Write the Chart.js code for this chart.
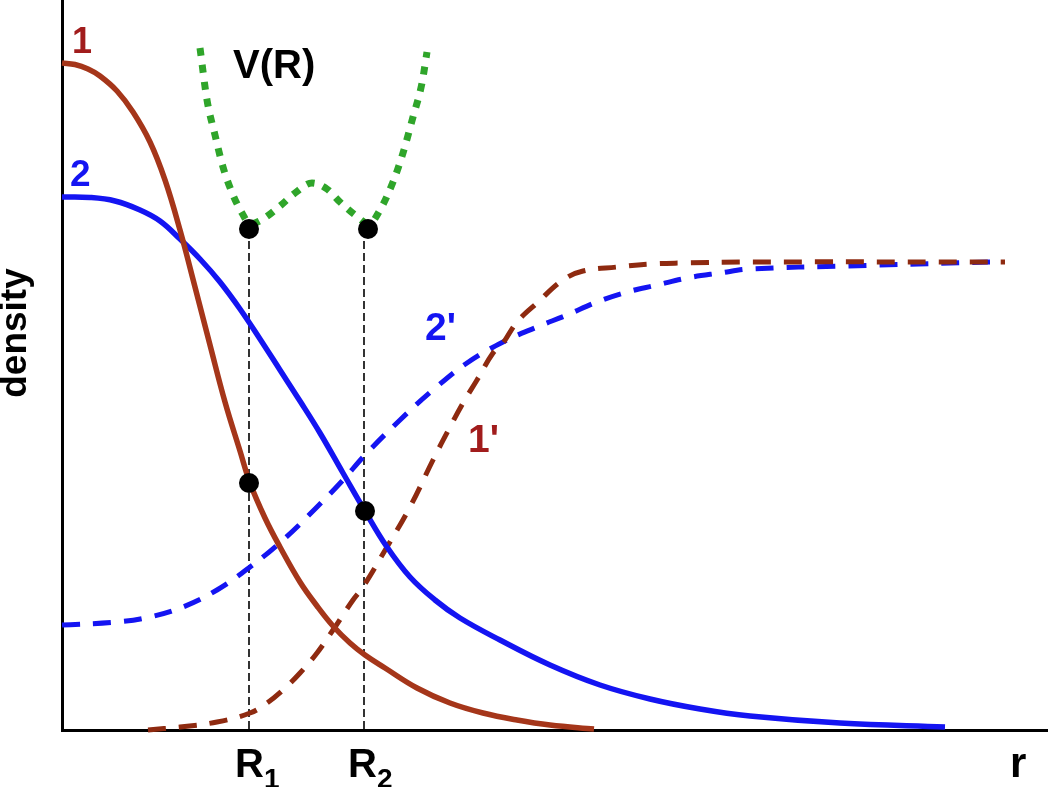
<!DOCTYPE html>
<html><head><meta charset="utf-8">
<script src="https://cdn.jsdelivr.net/npm/chart.js@4.4.1/dist/chart.umd.min.js"></script>
<style>html,body{margin:0;padding:0;background:#fff}canvas{display:block}</style>
</head><body>
<canvas id="c" width="1048" height="787"></canvas>
<script>
// ---- data (arbitrary units: r along x, density along y) ----
const curve1R = [0, .13, .26, .38, .55, .71, .88, 1.03, 1.18, 1.33, 1.48, 1.63, 1.78, 1.88, 2.03, 2.18, 2.38, 2.55, 2.71, 2.88, 3.03, 3.23, 3.55, 3.88, 4.21, 4.55, 4.88, 5.32];
const curve1D = [6.67, 6.655, 6.61, 6.54, 6.39, 6.18, 5.88, 5.50, 5.00, 4.43, 3.85, 3.28, 2.79, 2.47, 2.12, 1.83, 1.48, 1.24, 1.04, .87, .75, .62, .42, .27, .17, .10, .05, .01];

const curve2R = [0, .28, .53, .78, .98, 1.18, 1.38, 1.58, 1.78, 1.98, 2.18, 2.38, 2.58, 2.81, 3.03, 3.25, 3.48, 3.73, 3.98, 4.38, 4.88, 5.38, 5.88, 6.38, 6.88, 7.78, 8.83];
const curve2D = [5.33, 5.325, 5.29, 5.20, 5.09, 4.91, 4.71, 4.48, 4.21, 3.91, 3.60, 3.29, 2.97, 2.57, 2.19, 1.83, 1.53, 1.30, 1.12, .90, .65, .45, .31, .21, .14, .07, .03];

const curve2pR = [0, .55, .88, 1.21, 1.55, 1.88, 2.21, 2.55, 2.81, 3.03, 3.38, 3.71, 4.05, 4.41, 4.75, 5.05, 5.35, 5.65, 5.95, 6.25, 6.58, 6.88, 7.85, 9.28];
const curve2pD = [1.05, 1.08, 1.13, 1.23, 1.40, 1.63, 1.90, 2.23, 2.50, 2.75, 3.10, 3.40, 3.67, 3.88, 4.03, 4.15, 4.28, 4.38, 4.45, 4.52, 4.57, 4.61, 4.64, 4.68];

const curve1pR = [.86, 1.18, 1.55, 1.88, 2.05, 2.21, 2.38, 2.55, 2.71, 2.91, 3.01, 3.25, 3.48, 3.71, 3.88, 4.01, 4.15, 4.31, 4.41, 4.55, 4.75, 5.01, 5.21, 5.55, 5.88, 6.21, 6.88, 9.43];
const curve1pD = [0, .03, .08, .17, .27, .40, .57, .77, 1.00, 1.30, 1.43, 1.83, 2.23, 2.70, 3.03, 3.27, 3.50, 3.77, 3.87, 4.08, 4.27, 4.50, 4.59, 4.63, 4.66, 4.67, 4.68, 4.68];

const potentialR = [1.38, 1.45, 1.53, 1.61, 1.71, 1.80, 1.88, 2.01, 2.18, 2.33, 2.50, 2.65, 2.78, 2.93, 3.07, 3.18, 3.31, 3.41, 3.51, 3.60, 3.65];
const potentialD = [6.82, 6.30, 5.95, 5.63, 5.35, 5.17, 5.06, 5.11, 5.24, 5.37, 5.47, 5.41, 5.28, 5.15, 5.06, 5.20, 5.48, 5.77, 6.13, 6.47, 6.78];

const markerR = [1.87, 3.06, 1.87, 3.03];
const markerD = [5.01, 5.01, 2.47, 2.19];

const guideR = [1.87, 3.02];
const guideTop = 5.01;

const rMax = 9.86, dMax = 7.30;

// ---- build ----
const pts = (xs, ys) => xs.map((x, i) => ({x: x, y: ys[i]}));
const FONT = '"Liberation Sans", Arial, sans-serif';
const BROWN = '#a5361a', BROWN_D = '#8e2a10', LABEL_RED = '#a11c1c', BLUE = '#1414f2', GREEN = '#2fa52a';

const line = (data, color, width, dash, order) => ({
  data, showLine: true, borderColor: color, borderWidth: width, borderDash: dash,
  pointRadius: 0, fill: false, tension: 0.4, order, borderCapStyle: 'butt', clip: 6
});

const datasets = [
  {data: pts(markerR, markerD), showLine: false, pointRadius: 10, pointBackgroundColor: '#000', pointBorderWidth: 0, order: 0, clip: false},
  Object.assign(line(pts(potentialR, potentialD), GREEN, 7, [8, 9], 1), {cubicInterpolationMode: 'monotone'}),
  line(pts(curve1R, curve1D), BROWN, 5.5, [], 2),
  line(pts(curve2R, curve2D), BLUE, 5.5, [], 2),
  line(pts(curve1pR, curve1pD), BROWN_D, 5, [18, 13], 3),
  line(pts(curve2pR, curve2pD), BLUE, 5, [18, 13], 3),
];
guideR.forEach(r => {
  const g = line(pts([r, r], [guideTop, 0]), '#000', 1.6, [8, 4], 4);
  g.tension = 0;
  datasets.push(g);
});

const labelPlugin = {
  id: 'labels',
  afterDraw(chart) {
    const ctx = chart.ctx, xs = chart.scales.x, ys = chart.scales.y;
    const X = v => xs.getPixelForValue(v), Y = v => ys.getPixelForValue(v);
    const txt = (s, r, d, size, color, align) => {
      ctx.font = 'bold ' + size + 'px ' + FONT;
      ctx.fillStyle = color; ctx.textAlign = align || 'left'; ctx.textBaseline = 'alphabetic';
      ctx.fillText(s, X(r), Y(d));
    };
    ctx.save();
    txt('1', 0.10, 6.77, 36, LABEL_RED);
    txt('2', 0.08, 5.44, 37, BLUE);
    txt('V(R)', 1.71, 6.52, 40, '#000');
    txt("2'", 3.63, 3.90, 39, BLUE);
    txt("1'", 4.06, 2.78, 39, LABEL_RED);
    // R1, R2 with subscripts
    [['1', 1.73], ['2', 2.86]].forEach(([s, r]) => {
      ctx.font = 'bold 40px ' + FONT;
      const w = ctx.measureText('R').width;
      txt('R', r, -0.47, 40, '#000');
      ctx.font = 'bold 28px ' + FONT;
      ctx.fillStyle = '#000'; ctx.textAlign = 'left';
      ctx.fillText(s, X(r) + w, Y(-0.575));
    });
    txt('r', 9.48, -0.47, 42, '#000');
    // y axis title
    ctx.translate(X(-0.46), Y(3.97));
    ctx.rotate(-Math.PI / 2);
    ctx.font = 'bold 37px ' + FONT;
    ctx.fillStyle = '#000'; ctx.textAlign = 'center'; ctx.textBaseline = 'middle';
    ctx.fillText('density', 0, 0);
    ctx.restore();
  }
};

new Chart(document.getElementById('c'), {
  type: 'scatter',
  data: {datasets},
  options: {
    responsive: false, animation: false, events: [],
    devicePixelRatio: 1,
    layout: {padding: 0, autoPadding: false},
    plugins: {legend: {display: false}, tooltip: {enabled: false}, title: {display: false}},
    scales: {
      x: {type: 'linear', min: 0, max: rMax, grid: {display: false}, ticks: {display: false},
          border: {display: true, color: '#000', width: 3},
          afterFit: s => { s.height = 57; }},
      y: {type: 'linear', min: 0, max: dMax, grid: {display: false}, ticks: {display: false},
          border: {display: true, color: '#000', width: 3},
          afterFit: s => { s.width = 62; }}
    }
  },
  plugins: [labelPlugin]
});
</script>
</body></html>
